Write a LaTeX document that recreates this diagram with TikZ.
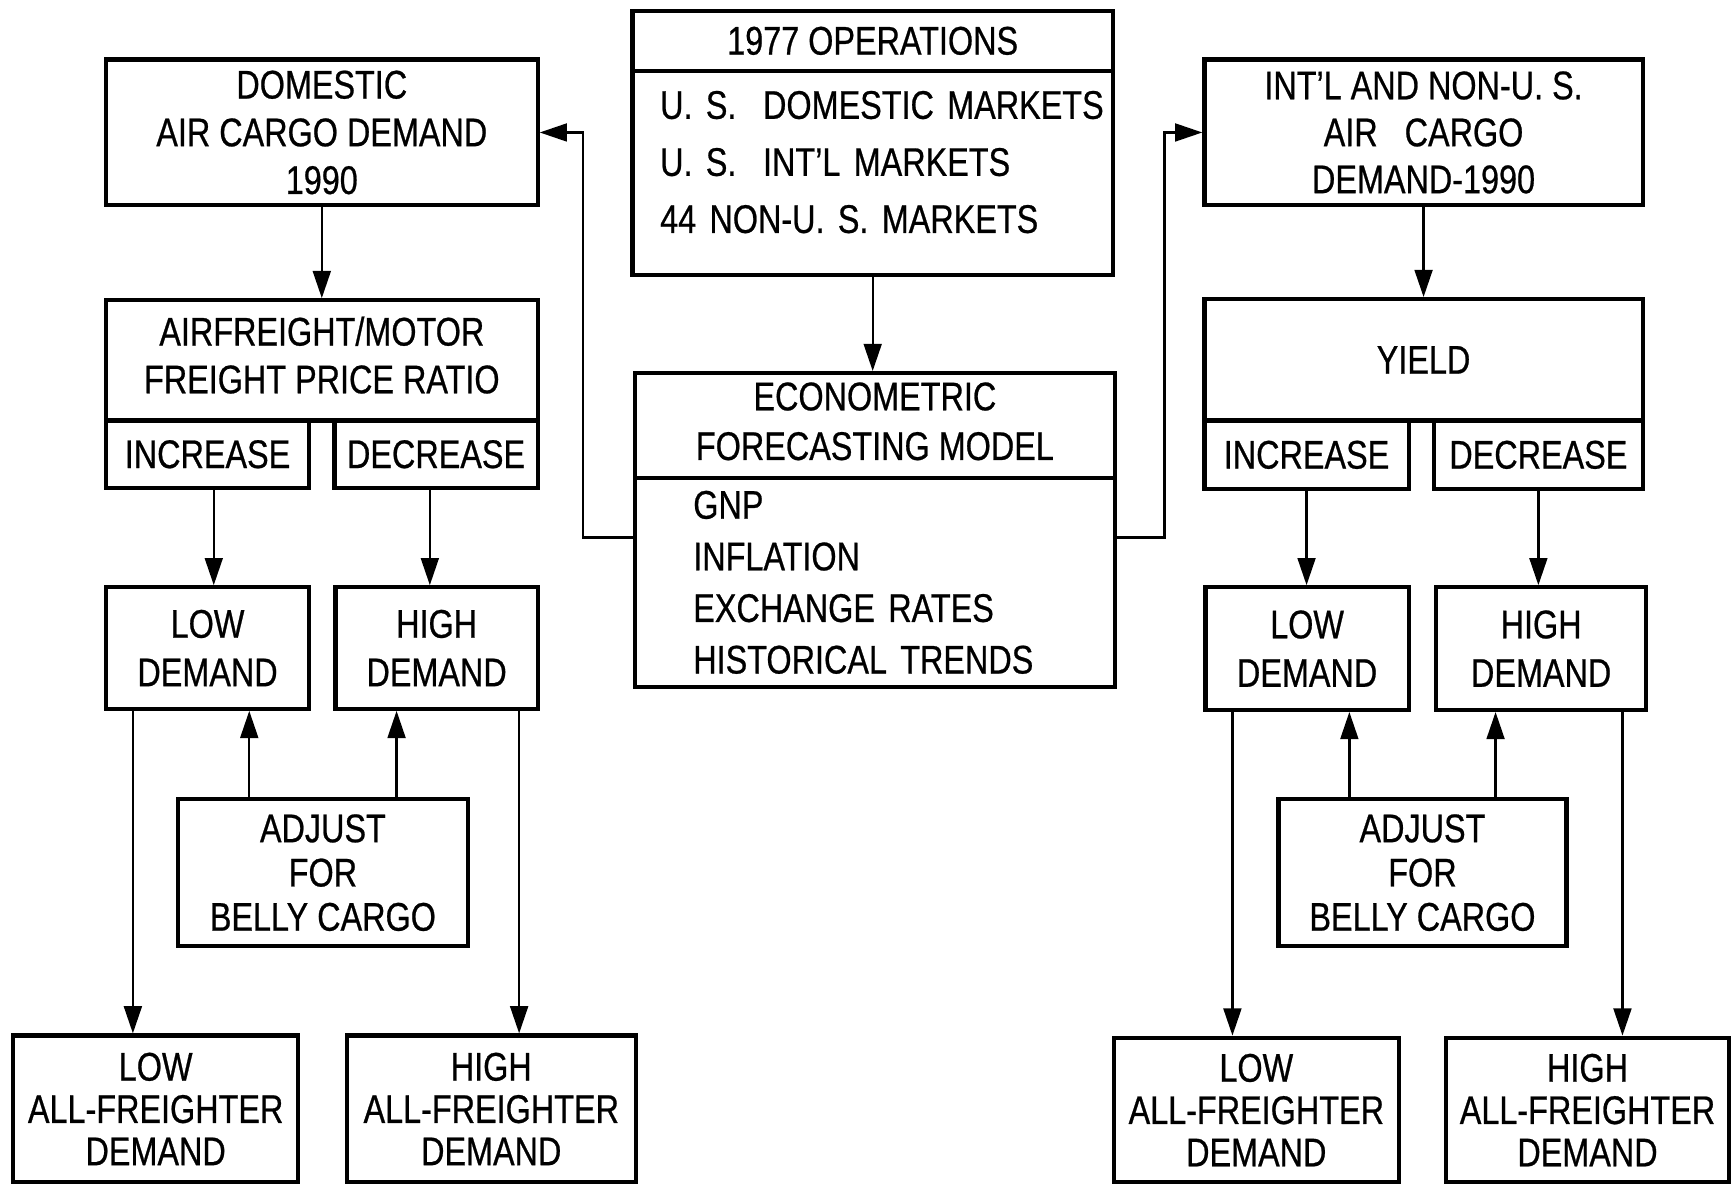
\documentclass[tikz,border=0pt]{standalone}
\usepackage{fontspec}
\setmainfont{Liberation Sans}[FakeStretch=0.81, FakeBold=0.6]
\usepackage{tikz}
\usetikzlibrary{
arrows.meta,
positioning,
calc
}
\newcommand{\boxfont}[1]{\fontsize{10.3pt}{#1}\selectfont}

\begin{document}
\begin{tikzpicture}[
  >={Triangle[length=7pt, width=4.6pt]},
  box/.style={
    draw, line width=1.1pt,
    align=center, inner sep=0pt,
    font=\boxfont{12.3pt}
  },
  link/.style={->, line width=0.6pt}
]

\useasboundingbox (0,0) rectangle (15.68,10.73);

%% ============================================================
%%  CENTRE — OPERATIONS AND MODEL
%% ============================================================
\node[box, minimum width=4.35cm, minimum height=0.54cm] (ops) at (7.905, 10.36)
  {1977 OPERATIONS};
\node[box, minimum width=4.35cm, minimum height=1.85cm, text depth=1.23cm,
      align=left, text width=3.85cm, font=\boxfont{14.7pt}] (opsB) at (7.905, 9.165)
  {\mbox{U. S.\ \ DOMESTIC MARKETS}\\
   \mbox{U. S.\ \ INT'L MARKETS}\\
   \mbox{44 NON-U. S.\ MARKETS}};

\node[box, minimum width=4.35cm, minimum height=0.95cm, text depth=0.08cm,
      font=\boxfont{12.8pt}] (econ) at (7.925, 6.875)
  {ECONOMETRIC\\FORECASTING MODEL};
\node[box, minimum width=4.35cm, minimum height=1.89cm,
      align=left, text width=3.29cm, font=\boxfont{13.3pt}] (econB) at (7.925, 5.455)
  {\mbox{GNP}\\
   \mbox{INFLATION}\\
   \mbox{EXCHANGE RATES}\\
   \mbox{HISTORICAL TRENDS}};

\draw[link] (opsB.south) -- (opsB.south |- econ.north);

%% Feedback to both sides
\coordinate (fbL) at ($(econB.north west)!0.29!(econB.south west)$);
\coordinate (fbR) at ($(econB.north east)!0.29!(econB.south east)$);

%% ============================================================
%%  LEFT SIDE — DOMESTIC
%% ============================================================
\node[box, minimum width=3.91cm, minimum height=1.32cm] (domL) at (2.915, 9.53)
  {DOMESTIC\\AIR CARGO DEMAND\\1990};

\node[box, minimum width=3.91cm, minimum height=1.09cm, text depth=0.1cm] (priceL) at (2.915, 7.465)
  {AIRFREIGHT/MOTOR\\FREIGHT PRICE RATIO};
\node[box, minimum width=1.84cm, minimum height=0.61cm] (incL) at (1.88, 6.615)
  {INCREASE};
\node[box, minimum width=1.84cm, minimum height=0.61cm] (decL) at (3.95, 6.615)
  {DECREASE};

\node[box, minimum width=1.84cm, minimum height=1.10cm, font=\boxfont{12.5pt}] (lowL) at (1.88, 4.86)
  {LOW\\DEMAND};
\node[box, minimum width=1.83cm, minimum height=1.10cm, font=\boxfont{12.5pt}] (highL) at (3.955, 4.86)
  {HIGH\\DEMAND};

\node[box, minimum width=2.63cm, minimum height=1.33cm, font=\boxfont{11.4pt}] (adjL) at (2.925, 2.825)
  {ADJUST\\FOR\\BELLY CARGO};

\node[box, minimum width=2.58cm, minimum height=1.33cm, font=\boxfont{10.9pt}] (lowfL) at (1.41, 0.685)
  {LOW\\ALL-FREIGHTER\\DEMAND};
\node[box, minimum width=2.62cm, minimum height=1.33cm, font=\boxfont{10.9pt}] (highfL) at (4.45, 0.685)
  {HIGH\\ALL-FREIGHTER\\DEMAND};

%% Arrows
\draw[link] (fbL) -- ++(-0.45,0) |- (domL.east);
\draw[link] (domL) -- (priceL);

\coordinate (iL) at ($(incL.south west)!0.53!(incL.south east)$);
\coordinate (eL) at ($(decL.south west)!0.47!(decL.south east)$);
\draw[link] (iL) -- (iL |- lowL.north);
\draw[link] (eL) -- (eL |- highL.north);

\coordinate (aL1) at ($(adjL.north west)!0.25!(adjL.north east)$);
\coordinate (aL2) at ($(adjL.north west)!0.75!(adjL.north east)$);
\draw[link] (aL1) -- (aL1 |- lowL.south);
\draw[link] (aL2) -- (aL2 |- highL.south);

\coordinate (dL1) at ($(lowL.south west)!0.14!(lowL.south east)$);
\coordinate (dL2) at ($(highL.south west)!0.9!(highL.south east)$);
\draw[link] (dL1) -- (dL1 |- lowfL.north);
\draw[link] (dL2) -- (dL2 |- highfL.north);

%% ============================================================
%%  RIGHT SIDE — INT'L AND NON-U.S.
%% ============================================================
\node[box, minimum width=3.97cm, minimum height=1.32cm, font=\boxfont{12.1pt}] (intlR) at (12.895, 9.53)
  {INT'L AND NON-U. S.\\AIR\ \ \ CARGO\\DEMAND-1990};

\node[box, minimum width=3.97cm, minimum height=1.10cm] (yieldR) at (12.895, 7.47)
  {YIELD};
\node[box, minimum width=1.85cm, minimum height=0.62cm] (incR) at (11.835, 6.61)
  {INCREASE};
\node[box, minimum width=1.89cm, minimum height=0.62cm] (decR) at (13.935, 6.61)
  {DECREASE};

\node[box, minimum width=1.84cm, minimum height=1.11cm, font=\boxfont{12.5pt}] (lowR) at (11.84, 4.855)
  {LOW\\DEMAND};
\node[box, minimum width=1.90cm, minimum height=1.11cm, font=\boxfont{12.5pt}] (highR) at (13.96, 4.855)
  {HIGH\\DEMAND};

\node[box, minimum width=2.61cm, minimum height=1.33cm, font=\boxfont{11.4pt}] (adjR) at (12.885, 2.825)
  {ADJUST\\FOR\\BELLY CARGO};

\node[box, minimum width=2.58cm, minimum height=1.31cm, font=\boxfont{10.9pt}] (lowfR) at (11.38, 0.675)
  {LOW\\ALL-FREIGHTER\\DEMAND};
\node[box, minimum width=2.56cm, minimum height=1.31cm, font=\boxfont{10.9pt}] (highfR) at (14.38, 0.675)
  {HIGH\\ALL-FREIGHTER\\DEMAND};

%% Arrows
\draw[link] (fbR) -- ++(0.43,0) |- (intlR.west);
\draw[link] (intlR) -- (yieldR);
\draw[link] (incR.south) -- (incR.south |- lowR.north);
\draw[link] (decR.south) -- (decR.south |- highR.north);

\coordinate (aR1) at ($(adjR.north west)!0.25!(adjR.north east)$);
\coordinate (aR2) at ($(adjR.north west)!0.75!(adjR.north east)$);
\draw[link] (aR1) -- (aR1 |- lowR.south);
\draw[link] (aR2) -- (aR2 |- highR.south);

\coordinate (dR1) at ($(lowR.south west)!0.14!(lowR.south east)$);
\coordinate (dR2) at ($(highR.south west)!0.88!(highR.south east)$);
\draw[link] (dR1) -- (dR1 |- lowfR.north);
\draw[link] (dR2) -- (dR2 |- highfR.north);

\end{tikzpicture}
\end{document}
